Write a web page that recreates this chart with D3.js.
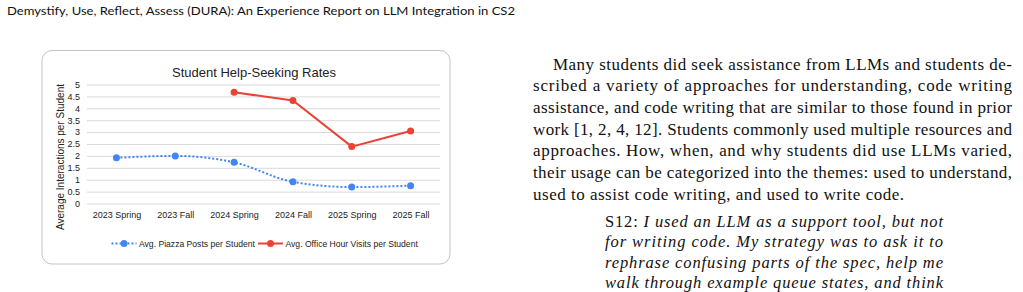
<!--
Page snippet with the help-seeking line chart
-->
<html>
<head>
<meta charset="utf-8">
<script src="https://d3js.org/d3.v7.min.js"></script>
<style>
  body { margin: 0; background: #fff; }
  svg { display: block; }
</style>
</head>
<body>
<script>
// chart data
var terms = ["2023 Spring", "2023 Fall", "2024 Spring", "2024 Fall", "2025 Spring", "2025 Fall"];
var piazzaPosts = [1.92, 2.0, 1.73, 0.91, 0.69, 0.75];
var officeHours = [null, null, 4.67, 4.33, 2.39, 3.05];
var yTicks = [0, 0.5, 1, 1.5, 2, 2.5, 3, 3.5, 4, 4.5, 5];
var seriesNames = ["Avg. Piazza Posts per Student", "Avg. Office Hour Visits per Student"];

// page text
var headerText = "Demystify, Use, Reflect, Assess (DURA): An Experience Report on LLM Integration in CS2";
var bodyLines = [
  "Many students did seek assistance from LLMs and students de-",
  "scribed a variety of approaches for understanding, code writing",
  "assistance, and code writing that are similar to those found in prior",
  "work [1, 2, 4, 12]. Students commonly used multiple resources and",
  "approaches. How, when, and why students did use LLMs varied,",
  "their usage can be categorized into the themes: used to understand,",
  "used to assist code writing, and used to write code."
];
var quoteLines = [
  "I used an LLM as a support tool, but not",
  "for writing code. My strategy was to ask it to",
  "rephrase confusing parts of the spec, help me",
  "walk through example queue states, and think"
];

var W = 1023, H = 292;
var blue = "#4285f4", red = "#ea4335";

var svg = d3.select("body").append("svg")
  .attr("width", W)
  .attr("height", H);

// running header
svg.append("text")
  .attr("x", 7)
  .attr("y", 15)
  .attr("textLength", 508)
  .attr("lengthAdjust", "spacingAndGlyphs")
  .style("font-family", "Lato, 'Open Sans', sans-serif")
  .style("font-size", "11px")
  .style("fill", "#111")
  .text(headerText);

// ---- chart card ----
svg.append("rect")
  .attr("x", 42).attr("y", 50.5)
  .attr("width", 408).attr("height", 213.5)
  .attr("rx", 10)
  .style("fill", "#fff")
  .style("stroke", "#c4c4c4")
  .style("stroke-width", 1);

var x = d3.scalePoint()
  .domain(terms)
  .range([87, 440])
  .padding(0.5);

var y = d3.scaleLinear()
  .domain([0, 5])
  .range([203.5, 84.5]);

var chartFont = "Arial, 'Liberation Sans', sans-serif";

svg.append("text")
  .attr("x", 254).attr("y", 76.5)
  .attr("text-anchor", "middle")
  .style("font-family", chartFont)
  .style("font-size", "13px")
  .style("fill", "#222")
  .text("Student Help-Seeking Rates");

// y axis with gridlines
var yAxis = svg.append("g")
  .attr("transform", "translate(87,0)")
  .call(d3.axisLeft(y).tickValues(yTicks).tickSize(-353).tickPadding(7)
    .tickFormat(d3.format("")));
yAxis.select(".domain").remove();
yAxis.selectAll(".tick line").style("stroke", "#d9d9d9");
yAxis.selectAll(".tick text")
  .style("font-family", chartFont)
  .style("font-size", "9px")
  .style("fill", "#222");

// x axis labels
var xAxis = svg.append("g")
  .attr("transform", "translate(0,203.5)")
  .call(d3.axisBottom(x).tickSize(0).tickPadding(8));
xAxis.select(".domain").remove();
xAxis.selectAll(".tick text")
  .style("font-family", chartFont)
  .style("font-size", "9px")
  .style("fill", "#222");

svg.append("text")
  .attr("transform", "translate(64,157) rotate(-90)")
  .attr("text-anchor", "middle")
  .style("font-family", chartFont)
  .style("font-size", "10px")
  .style("fill", "#222")
  .text("Average Interactions per Student");

// piazza series: smooth dotted line
var blueLine = d3.line()
  .defined(d => d != null)
  .x((d, i) => x(terms[i]))
  .y(d => y(d))
  .curve(d3.curveMonotoneX);

svg.append("path")
  .datum(piazzaPosts)
  .attr("d", blueLine)
  .style("fill", "none")
  .style("stroke", blue)
  .style("stroke-width", 2)
  .style("stroke-dasharray", "2,2");

svg.selectAll(".bdot")
  .data(piazzaPosts.map((v, i) => ({t: terms[i], v: v})).filter(d => d.v != null))
  .enter().append("circle")
  .attr("class", "bdot")
  .attr("cx", d => x(d.t))
  .attr("cy", d => y(d.v))
  .attr("r", 3.5)
  .style("fill", blue);

// office hour series: straight line
var redLine = d3.line()
  .defined(d => d != null)
  .x((d, i) => x(terms[i]))
  .y(d => y(d));

svg.append("path")
  .datum(officeHours)
  .attr("d", redLine)
  .style("fill", "none")
  .style("stroke", red)
  .style("stroke-width", 2);

svg.selectAll(".rdot")
  .data(officeHours.map((v, i) => ({t: terms[i], v: v})).filter(d => d.v != null))
  .enter().append("circle")
  .attr("class", "rdot")
  .attr("cx", d => x(d.t))
  .attr("cy", d => y(d.v))
  .attr("r", 3.5)
  .style("fill", red);

// legend
var legend = [
  {name: seriesNames[0], color: blue, dash: "2,2", x0: 111.5},
  {name: seriesNames[1], color: red, dash: null, x0: 258}
];
legend.forEach(function(l) {
  var g = svg.append("g").attr("transform", "translate(" + l.x0 + ",243.5)");
  g.append("line")
    .attr("x1", 0).attr("x2", 25)
    .style("stroke", l.color)
    .style("stroke-width", 2)
    .style("stroke-dasharray", l.dash);
  g.append("circle").attr("cx", 12.5).attr("r", 3.5).style("fill", l.color);
  g.append("text")
    .attr("x", 27.5).attr("y", 3.2)
    .style("font-family", chartFont)
    .style("font-size", "8.6px")
    .style("fill", "#222")
    .text(l.name);
});

// ---- right column body text ----
var serif = "'Linux Libertine O', 'Liberation Serif', serif";
var lineTops = [69.5, 91.2, 112.9, 134.6, 156.3, 178, 199.7];
bodyLines.forEach(function(s, i) {
  var x0 = i === 0 ? 553 : 533;
  var x1 = i === bodyLines.length - 1 ? 904 : 1012;
  svg.append("text")
    .attr("x", x0).attr("y", lineTops[i])
    .attr("textLength", x1 - x0)
    .attr("lengthAdjust", "spacing")
    .style("font-family", serif)
    .style("font-size", "17px")
    .style("fill", "#111")
    .text(s);
});

var quoteTops = [226.5, 247, 267.5, 288];
quoteLines.forEach(function(s, i) {
  var t = svg.append("text")
    .attr("x", 605).attr("y", quoteTops[i])
    .attr("textLength", 943 - 605)
    .attr("lengthAdjust", "spacing")
    .style("font-family", serif)
    .style("font-size", "16.5px")
    .style("fill", "#111");
  if (i === 0) t.append("tspan").text("S12: ");
  t.append("tspan").style("font-style", "italic").text(s);
});
</script>
</body>
</html>
